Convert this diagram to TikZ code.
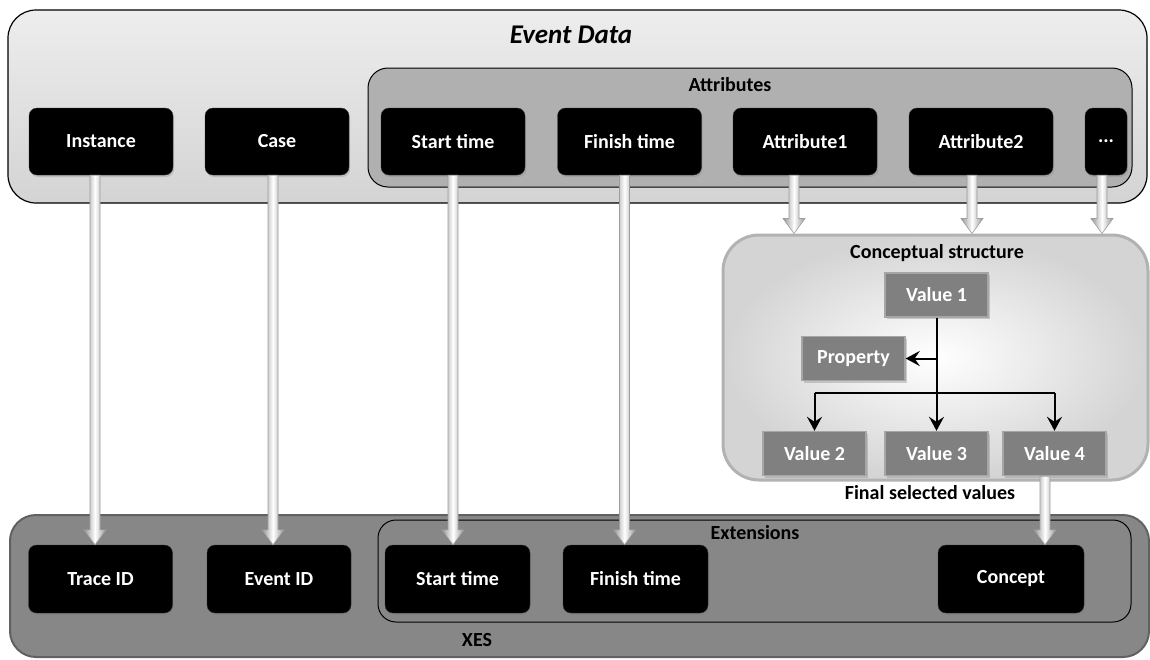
\documentclass[tikz,border=0pt]{standalone}
\usepackage{fontspec}
\setmainfont{Carlito}
\usetikzlibrary{arrows.meta,shadows,calc}

% light grey 3D drop arrow from one point down to the y of another
\newcommand\greyshaft[2]{%
  \path[shade, left color=black!42, right color=black!42, middle color=white,
        draw=black!38, line width=0.6pt]
    let \p1=(#1), \p2=(#2) in
    (\x1-5pt,\y1) -- (\x1-5pt,\y2+15pt) -- (\x1-11pt,\y2+15pt) -- (\x1,\y2)
    -- (\x1+11pt,\y2+15pt) -- (\x1+5pt,\y2+15pt) -- (\x1+5pt,\y1) -- cycle;}

\begin{document}
\begin{tikzpicture}[x=1pt,y=-1pt]
\tikzset{
  lbl/.style={font=\bfseries\fontsize{20}{24}\selectfont, inner sep=0pt},
  blackbox/.style={lbl, rounded corners=8pt, fill=black, draw=black!80,
    minimum width=144pt, minimum height=67pt, text=white,
    drop shadow={opacity=0.3, shadow xshift=1.2pt, shadow yshift=-2pt}},
  valbox/.style={lbl, fill=black!50, draw=black!35, line width=1.4pt,
    minimum width=103pt, minimum height=44pt, text=white,
    drop shadow={opacity=0.35, shadow xshift=1.5pt, shadow yshift=-2pt}},
  treeline/.style={line width=2pt, draw=black},
  treearrow/.style={treeline, -{Stealth[length=14pt,width=15pt,inset=5pt]}},
}
\useasboundingbox (0,0) rectangle (1150,659);
\fill[white] (0,0) rectangle (1150,659);

% containers
\node[rounded corners=28pt, top color=black!7, bottom color=black!17,
      draw=black, line width=1.2pt, minimum width=1139pt, minimum height=193pt]
  (evdata) at (577.5,106.5) {};
\node[rounded corners=20pt, fill=black!31, draw=black, line width=1pt,
      minimum width=764pt, minimum height=119pt]
  (attrs) at (750,127.5) {};
\node[rounded corners=36pt, inner color=white, outer color=black!17,
      draw=black!30, line width=3pt, minimum width=425pt, minimum height=245pt]
  (cs) at (935.5,357.5) {};
\node[rounded corners=26pt, fill=black!47, draw=black!62, line width=2pt,
      minimum width=1139pt, minimum height=142pt]
  (xes) at (579.5,586) {};
\node[rounded corners=18pt, draw=black, line width=1pt,
      minimum width=753pt, minimum height=102pt]
  (ext) at (754.5,571) {};

% event attributes
\node[blackbox] (inst)    at (101,141.5)   {Instance};
\node[blackbox] (case)    at (277,141.5)   {Case};
\node[blackbox] (start1)  at (453,141.5)   {Start time};
\node[blackbox] (finish1) at (629.5,141.5) {Finish time};
\node[blackbox] (attr1)   at (805,141.5)   {Attribute1};
\node[blackbox] (attr2)   at (981,141.5)   {Attribute2};
\node[blackbox, minimum width=42pt] (dots) at (1106,141.5) {...};

% XES elements
\node[blackbox, minimum height=68pt] (trace)   at (100.5,579) {Trace ID};
\node[blackbox, minimum height=68pt] (eventid) at (279,579)   {Event ID};
\node[blackbox, minimum height=68pt, minimum width=145pt] (start2)  at (457.5,579) {Start time};
\node[blackbox, minimum height=68pt, minimum width=145pt] (finish2) at (635.5,579) {Finish time};
\node[blackbox, minimum height=68pt, minimum width=146pt] (concept) at (1011,579)  {Concept};

% conceptual structure values
\node[valbox] (v1)   at (936.5,295)   {Value 1};
\node[valbox] (prop) at (853.5,358.5) {Property};
\node[valbox] (v2)   at (814.5,453.5) {Value 2};
\node[valbox] (v3)   at (936.5,453.5) {Value 3};
\node[valbox] (v4)   at (1054.5,453.5) {Value 4};

\coordinate (bar) at (936.5,393);
\draw[treearrow] (v1.south) -- (v3.north);
\draw[treearrow] (v1.south |- prop.east) -- (prop.east);
\draw[treeline] (v2.north |- bar) -- (v4.north |- bar);
\draw[treearrow] (v2.north |- bar) -- (v2.north);
\draw[treearrow] (v4.north |- bar) -- (v4.north);

% mappings
\greyshaft{[xshift=-6pt]inst.south}{trace.north}
\greyshaft{[xshift=-4pt]case.south}{eventid.north}
\greyshaft{start1.south}{start2.north}
\greyshaft{[xshift=-5pt]finish1.south}{finish2.north}
\greyshaft{[xshift=-11pt]attr1.south}{cs.north}
\greyshaft{[xshift=-9pt]attr2.south}{cs.north}
\greyshaft{[xshift=-4pt]dots.south}{cs.north}
\greyshaft{[xshift=-9.5pt]v4.south}{concept.north}

% titles
\node[font=\bfseries\itshape\fontsize{27}{32}\selectfont, inner sep=0pt] (tevent) at (571,35) {Event Data};
\node[lbl] (tattr) at (730,85)  {Attributes};
\node[lbl] (tcs)   at (937,253) {Conceptual structure};
\node[lbl] (tfin)  at (930,493) {Final selected values};
\node[lbl] (text)  at (755,533) {Extensions};
\node[lbl] (txes)  at (477,640) {XES};
\end{tikzpicture}
\end{document}
